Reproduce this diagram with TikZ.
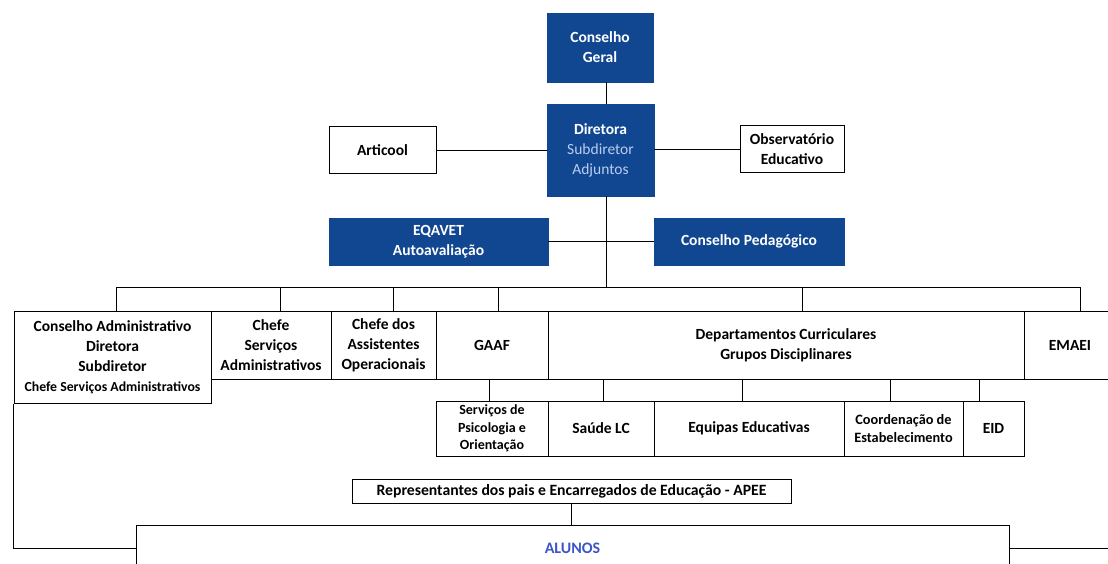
\documentclass[tikz,border=0pt]{standalone}
\usepackage{fontspec}
\setmainfont{Carlito}
\usetikzlibrary{calc}
\definecolor{org_blue}{RGB}{17, 70, 145}
\definecolor{org_light}{RGB}{185, 205, 240}
\definecolor{org_text}{RGB}{60, 85, 200}
\tikzstyle{bn}=[rectangle,fill=org_blue,draw=org_blue,text=white,align=center,
  inner sep=0pt,font=\bfseries\fontsize{15.5}{20}\selectfont]
\tikzstyle{wn}=[rectangle,fill=white,draw=black,line width=1pt,align=center,
  inner sep=0pt,font=\bfseries\fontsize{15.5}{20}\selectfont]
\tikzstyle{sn}=[wn,font=\bfseries\fontsize{14}{17.5}\selectfont]
\tikzstyle{ln}=[line width=1pt]
\tikzstyle{none}=[]

\begin{document}
\begin{tikzpicture}[x=1pt, y=-1pt]
            \useasboundingbox (0, 0) rectangle (1108, 564);
            % top of the chart
            \node [style=bn, minimum width=106, minimum height=69] (geral) at (600, 47.5) {Conselho\\Geral};
            \node [style=bn, minimum width=107, minimum height=92] (dir) at (600.5, 150) {Diretora\\{\mdseries\color{org_light}Subdiretor}\\{\mdseries\color{org_light}Adjuntos}};
            \node [style=wn, minimum width=107, minimum height=47] (art) at (382.5, 150.5) {Articool};
            \node [style=wn, minimum width=104, minimum height=47] (obs) at (792, 149.5) {Observatório\\Educativo};
            \node [style=bn, minimum width=219, minimum height=47] (eqa) at (438.5, 241.5) {EQAVET\\Autoavaliação};
            \node [style=bn, minimum width=190, minimum height=47] (ped) at (749, 241.5) {Conselho Pedagógico};
            % first row
            \node [style=wn, minimum width=197, minimum height=92] (ca) at (112.5, 357) {Conselho Administrativo\\Diretora\\Subdiretor\\{\fontsize{13.8}{19}\selectfont Chefe Serviços Administrativos}};
            \node [style=wn, minimum width=120, minimum height=68] (chs) at (271, 345) {Chefe\\Serviços\\Administrativos};
            \node [style=wn, minimum width=105, minimum height=68] (cda) at (383.5, 345) {Chefe dos\\Assistentes\\Operacionais};
            \node [style=wn, minimum width=112, minimum height=68] (gaaf) at (492, 345) {GAAF};
            \node [style=wn, minimum width=476, minimum height=68] (dep) at (786, 345) {Departamentos Curriculares\\Grupos Disciplinares};
            \node [style=wn, minimum width=92, minimum height=68] (emaei) at (1070, 345) {EMAEI};
            % second row
            \node [style=sn, minimum width=112, minimum height=55] (spo) at (492, 428.5) {Serviços de\\Psicologia e\\Orientação};
            \node [style=wn, minimum width=106, minimum height=55] (sau) at (601, 428.5) {Saúde LC};
            \node [style=wn, minimum width=190, minimum height=55] (equ) at (749, 428.5) {Equipas Educativas};
            \node [style=sn, minimum width=119, minimum height=55, font=\bfseries\fontsize{14.3}{18.5}\selectfont] (coo) at (903.5, 428.5) {Coordenação de\\Estabelecimento};
            \node [style=wn, minimum width=61, minimum height=55] (eid) at (993.5, 428.5) {EID};
            % bottom
            \node [style=wn, minimum width=439, minimum height=24, font=\bfseries\fontsize{15.7}{18}\selectfont] (apee) at (571.5, 491) {Representantes dos pais e Encarregados de Educação - APEE};
            \node [style=wn, minimum width=873, minimum height=46, text=org_text, font=\bfseries\fontsize{16}{20}\selectfont] (alunos) at (572.5, 548) {ALUNOS};
            \coordinate (spine) at (606, 287);
            \coordinate (b1) at (116, 287);
            \coordinate (b2) at (280, 287);
            \coordinate (b3) at (393, 287);
            \coordinate (b4) at (498, 287);
            \coordinate (b5) at (802, 287);
            \coordinate (b6) at (1080, 287);
            \coordinate (edge) at (1120, 548);
            \draw [style=ln] (geral.south -| spine) to (dir.north -| spine);
            \draw [style=ln] (dir.south -| spine) to (spine);
            \draw [style=ln] (art.east) to (art.east -| dir.west);
            \draw [style=ln] (dir.east |- obs.west) to (obs.west);
            \draw [style=ln] (eqa.east) to (ped.west);
            \draw [style=ln] (b1) to (b6);
            \draw [style=ln] (b1) to (b1 |- ca.north);
            \draw [style=ln] (b2) to (b2 |- chs.north);
            \draw [style=ln] (b3) to (b3 |- cda.north);
            \draw [style=ln] (b4) to (b4 |- gaaf.north);
            \draw [style=ln] (b5) to (b5 |- dep.north);
            \draw [style=ln] (b6) to (b6 |- emaei.north);
            \draw [style=ln] ([xshift=-3]gaaf.south) to ([xshift=-3]spo.north);
            \draw [style=ln] ([xshift=2]sau.north) to ([xshift=2]sau.north |- dep.south);
            \draw [style=ln] ([xshift=-7]equ.north) to ([xshift=-7]equ.north |- dep.south);
            \draw [style=ln] ([xshift=-13.5]coo.north) to ([xshift=-13.5]coo.north |- dep.south);
            \draw [style=ln] ([xshift=-14.5]eid.north) to ([xshift=-14.5]eid.north |- dep.south);
            \draw [style=ln] ([xshift=-0.5]apee.south) to ([xshift=-0.5]apee.south |- alunos.north);
            \draw [style=ln] (ca.south west) |- (alunos.west);
            \draw [style=ln] (alunos.east) to (edge);
    \end{tikzpicture}
\end{document}
